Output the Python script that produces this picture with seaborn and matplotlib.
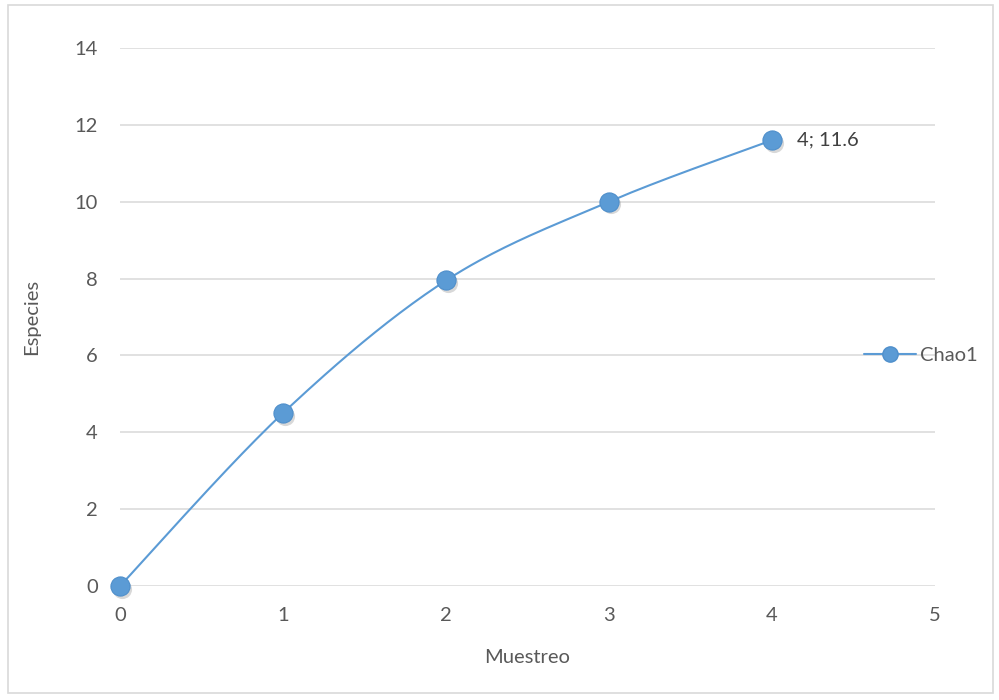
import numpy as np
import pandas as pd
import matplotlib
matplotlib.use("Agg")
import matplotlib.pyplot as plt
import matplotlib.transforms as mtransforms
from matplotlib.patches import Rectangle
from matplotlib.lines import Line2D
import seaborn as sns

muestreo = [0, 1, 2, 3, 4]
chao1 = [0.0, 4.5, 7.95, 10.0, 11.6]
y_ticks = [0, 2, 4, 6, 8, 10, 12, 14]
x_ticks = [0, 1, 2, 3, 4, 5]
series_name = "Chao1"

BLUE = "#5B9BD5"
EDGE = "#4F8FCB"
GRID = "#D9D9D9"
TEXT = "#595959"
FS = 14.5

sns.set_theme(style="white")
plt.rcParams["font.family"] = ["Lato", "DejaVu Sans"]

df = pd.DataFrame({"Muestreo": muestreo, "Especies": chao1})


def smooth_curve(x, y, steps=40):
    """Catmull-Rom style cubic Bezier curve through the points."""
    x = np.asarray(x, float)
    y = np.asarray(y, float)
    px = np.concatenate([[x[0]], x, [x[-1]]])
    py = np.concatenate([[y[0]], y, [y[-1]]])
    t = np.linspace(0, 1, steps)
    xs, ys = [], []
    k = 1 / 6
    for i in range(1, len(px) - 2):
        p0 = np.array([px[i], py[i]])
        p3 = np.array([px[i + 1], py[i + 1]])
        p1 = p0 + k * (np.array([px[i + 1], py[i + 1]]) - np.array([px[i - 1], py[i - 1]]))
        p2 = p3 - k * (np.array([px[i + 2], py[i + 2]]) - np.array([px[i], py[i]]))
        b = ((1 - t) ** 3)[:, None] * p0 + (3 * (1 - t) ** 2 * t)[:, None] * p1 \
            + (3 * (1 - t) * t ** 2)[:, None] * p2 + (t ** 3)[:, None] * p3
        xs.append(b[:, 0])
        ys.append(b[:, 1])
    return np.concatenate(xs), np.concatenate(ys)


fig = plt.figure(figsize=(9.99, 7.0), dpi=100)
ax = fig.add_axes([120 / 999, 1 - 586 / 700, (935 - 120) / 999, (586 - 48) / 700])

# light frame around the chart area
fig.patches.append(Rectangle((8 / 999, 1 - 693 / 700), 985 / 999, 688 / 700,
                             transform=fig.transFigure, fill=False,
                             edgecolor="#D9D9D9", linewidth=1.2))

for yv in y_ticks:
    ax.axhline(yv, color=GRID, linewidth=1.1, zorder=0)

sx, sy = smooth_curve(df["Muestreo"], df["Especies"])
sns.lineplot(x=sx, y=sy, ax=ax, color=BLUE, linewidth=1.5, sort=False, zorder=2)

shadow = mtransforms.offset_copy(ax.transData, fig=fig, x=1.5, y=-2.0, units="points")
ax.scatter(df["Muestreo"], df["Especies"], s=190, color="#7F7F7F", alpha=0.3,
           linewidths=0, transform=shadow, zorder=3)
sns.scatterplot(data=df, x="Muestreo", y="Especies", ax=ax, s=190, color=BLUE,
                edgecolor=EDGE, linewidth=0.8, zorder=4, legend=False)
for coll in ax.collections:
    coll.set_clip_on(False)

last_x, last_y = muestreo[-1], chao1[-1]
ax.annotate(f"{last_x}; {last_y:g}", (last_x, last_y), xytext=(18, 0),
            textcoords="offset points", va="center", ha="left",
            fontsize=FS, color="#404040")

ax.set_xlim(0, 5)
ax.set_ylim(0, 14)
ax.set_xticks(x_ticks)
ax.set_yticks(y_ticks)
ax.tick_params(axis="both", length=0, labelsize=FS, labelcolor=TEXT)
ax.tick_params(axis="x", pad=15)
ax.tick_params(axis="y", pad=16)
for s in ax.spines.values():
    s.set_visible(False)
ax.set_xlabel("Muestreo", fontsize=FS, color=TEXT, labelpad=18)
ax.set_ylabel("Especies", fontsize=FS, color=TEXT, labelpad=25)

handle = Line2D([0], [0], color=BLUE, linewidth=1.5, marker="o", markersize=11,
                markerfacecolor=BLUE, markeredgecolor=EDGE)
fig.legend([handle], [series_name], loc="center left",
           bbox_to_anchor=(854 / 999, 1 - 355 / 700), frameon=False,
           fontsize=FS, labelcolor=TEXT, handlelength=2.6, handletextpad=0.2,
           borderpad=0)

fig.savefig("out.png", dpi=100)
